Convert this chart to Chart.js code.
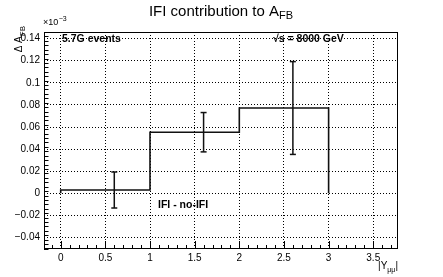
<!DOCTYPE html>
<html><head><meta charset="utf-8">
<script src="https://cdn.jsdelivr.net/npm/chart.js@4.4.0/dist/chart.umd.min.js"></script>
<style>html,body{margin:0;padding:0;background:#fff}canvas{display:block}</style>
</head><body>
<canvas id="c" width="443" height="277"></canvas>
<script>
// ---- data (values in units of 1e-3) ----
const binEdges = [0, 1, 2, 3];
const binValues = [0.003, 0.0553, 0.0772];
const pointX = [0.6, 1.6, 2.6];
const errors = [0.0163, 0.0178, 0.042];
const xTicks = [0, 0.5, 1, 1.5, 2, 2.5, 3, 3.5];
const yTicks = [-0.04, -0.02, 0, 0.02, 0.04, 0.06, 0.08, 0.1, 0.12, 0.14];

const FONT = '"Liberation Sans", Arial, Helvetica, sans-serif';

// step outline of the histogram
const stepData = [{x: binEdges[0], y: 0}];
for (let i = 0; i < binValues.length; i++) {
  stepData.push({x: binEdges[i], y: binValues[i]});
  stepData.push({x: binEdges[i + 1], y: binValues[i]});
}
stepData.push({x: binEdges[binEdges.length - 1], y: 0});

const datasets = [{
  data: stepData, showLine: true, borderColor: '#111', borderWidth: 1.6,
  pointRadius: 0, fill: false, tension: 0
}];
pointX.forEach((x, i) => {
  datasets.push({
    data: [{x: x, y: binValues[i] - errors[i]}, {x: x, y: binValues[i] + errors[i]}],
    showLine: true, borderColor: '#111', borderWidth: 1.5,
    pointStyle: 'line', pointRadius: 3, pointBorderWidth: 1.5,
    pointBorderColor: '#111', pointBackgroundColor: '#111'
  });
});

const fmt = v => {
  const s = (Math.round(v * 1000) / 1000).toString();
  return v < 0 ? '\u2212' + s.slice(1) : s;
};

const rootPlugin = {
  id: 'rootFrame',
  afterDraw(chart) {
    const ctx = chart.ctx, a = chart.chartArea;
    const xs = chart.scales.x, ys = chart.scales.y;
    ctx.save();
    ctx.strokeStyle = '#000'; ctx.lineWidth = 1; ctx.setLineDash([]);
    // frame
    ctx.strokeRect(Math.round(a.left) + 0.5, Math.round(a.top) + 0.5,
      Math.round(a.right - a.left) - 1, Math.round(a.bottom - a.top) - 1);
    // y ticks inside
    ctx.beginPath();
    for (let k = -50; k <= 146; k += 4) {
      const v = k / 1000;
      if (v < ys.min || v > ys.max) continue;
      const y = Math.round(ys.getPixelForValue(v)) + 0.5;
      const major = (k % 20 === 0);
      ctx.moveTo(a.left, y); ctx.lineTo(a.left + (major ? 9 : 4.5), y);
    }
    // x ticks inside
    for (let k = -1; k <= 37; k++) {
      const v = k / 10;
      if (v < xs.min || v > xs.max) continue;
      const x = Math.round(xs.getPixelForValue(v)) + 0.5;
      const major = (k % 5 === 0);
      ctx.moveTo(x, a.bottom); ctx.lineTo(x, a.bottom - (major ? 8 : 4));
    }
    ctx.stroke();

    ctx.fillStyle = '#000';
    ctx.textBaseline = 'alphabetic';
    // title
    ctx.font = '15px ' + FONT;
    const t1 = 'IFI contribution to A';
    const w1 = ctx.measureText(t1).width;
    ctx.font = '11px ' + FONT;
    const w2 = ctx.measureText('FB').width;
    const tx = 221 - (w1 + w2) / 2;
    ctx.font = '15px ' + FONT;
    ctx.textAlign = 'left';
    ctx.fillText(t1, tx, 15.5);
    ctx.font = '11px ' + FONT;
    ctx.fillText('FB', tx + w1, 19);

    // x10^-3
    ctx.font = '9px ' + FONT;
    ctx.fillText('\u00d710', 43, 25);
    const wx = ctx.measureText('\u00d710').width;
    ctx.font = '7px ' + FONT;
    ctx.fillText('\u22123', 43 + wx + 0.5, 20.5);

    // y axis title (rotated)
    ctx.save();
    ctx.translate(22, 26);
    ctx.rotate(-Math.PI / 2);
    ctx.font = '8px ' + FONT;
    const ws = ctx.measureText('FB').width;
    ctx.textAlign = 'right';
    ctx.fillText('FB', 0, 3);
    ctx.font = '10px ' + FONT;
    ctx.fillText('\u0394 A', -ws, 0);
    ctx.restore();

    // annotations
    ctx.font = 'bold 10.5px ' + FONT;
    ctx.textAlign = 'left';
    ctx.fillText('5.7G events', 62, 42);
    ctx.fillText('\u221As = 8000 GeV', 273, 42);
    ctx.fillText('IFI - no-IFI', 158, 208);

    // x axis title |Y_mumu|
    ctx.font = '10px ' + FONT;
    const wbar = ctx.measureText('|').width;
    const wY = ctx.measureText('|Y').width;
    ctx.font = '7px ' + FONT;
    const wmu = ctx.measureText('\u03bc\u03bc').width;
    let xr = 398 - wbar - wmu - wY;
    ctx.font = '10px ' + FONT;
    ctx.fillText('|Y', xr, 269);
    ctx.font = '7px ' + FONT;
    ctx.fillText('\u03bc\u03bc', xr + wY, 272);
    ctx.font = '10px ' + FONT;
    ctx.fillText('|', xr + wY + wmu, 269);
    ctx.restore();
  }
};

new Chart(document.getElementById('c'), {
  type: 'scatter',
  data: {datasets},
  options: {
    responsive: false, animation: false, devicePixelRatio: 1,
    layout: {padding: {top: 32, right: 45, left: 0, bottom: 0}},
    plugins: {legend: {display: false}, tooltip: {enabled: false}, title: {display: false}},
    scales: {
      x: {
        type: 'linear', min: -0.187, max: 3.777,
        afterBuildTicks: s => { s.ticks = xTicks.map(v => ({value: v})); },
        afterFit: s => { s.height = 28; },
        ticks: {font: {family: FONT, size: 10}, color: '#000', padding: 3,
          maxRotation: 0, autoSkip: false, callback: v => fmt(v)},
        grid: {color: '#000', lineWidth: 1, drawTicks: false},
        border: {display: false, dash: [1, 2]}
      },
      y: {
        type: 'linear', min: -0.0504, max: 0.146,
        afterBuildTicks: s => { s.ticks = yTicks.map(v => ({value: v})); },
        afterFit: s => { s.width = 44; },
        ticks: {font: {family: FONT, size: 10}, color: '#000', padding: 4,
          autoSkip: false, callback: v => fmt(v)},
        grid: {color: '#000', lineWidth: 1, drawTicks: false},
        border: {display: false, dash: [1, 2]}
      }
    }
  },
  plugins: [rootPlugin]
});
</script>
</body></html>
